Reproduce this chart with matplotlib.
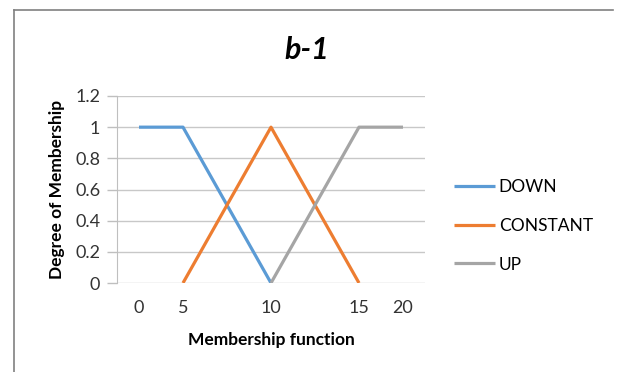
import numpy as np
import matplotlib
matplotlib.use('Agg')
import matplotlib.pyplot as plt
from matplotlib.lines import Line2D

plt.rcParams['font.family'] = ['Lato', 'DejaVu Sans']

# 类别轴：7个类别，其中两个不显示标签
categories = ["0", "5", "", "10", "", "15", "20"]
down = [1, 1, 0.5, 0, np.nan, np.nan, np.nan]
constant = [np.nan, 0, 0.5, 1, 0.5, 0, np.nan]
up = [np.nan, np.nan, np.nan, 0, 0.5, 1, 1]
series_names = ["DOWN", "CONSTANT", "UP"]
colors = ["#5B9BD5", "#ED7D31", "#A5A5A5"]

fig = plt.figure(figsize=(6.17, 3.72), dpi=100)
ax = fig.add_axes([117 / 617, 1 - 283 / 372, 308 / 617, 187 / 372])

x = np.arange(len(categories))
for vals, name, c in zip([down, constant, up], series_names, colors):
    ax.plot(x, vals, color=c, lw=2.3, label=name, solid_capstyle='butt')

ax.set_xlim(-0.5, len(categories) - 0.5)
ax.set_ylim(0, 1.2)
ax.set_yticks([0, 0.2, 0.4, 0.6, 0.8, 1, 1.2])
ax.set_yticklabels(["0", "0.2", "0.4", "0.6", "0.8", "1", "1.2"])
ax.set_xticks(x)
ax.set_xticklabels(categories)
ax.tick_params(axis='x', length=0, pad=12, labelsize=13, colors='#333333')
ax.tick_params(axis='y', length=7, width=1, color='#BFBFBF', pad=5,
               labelsize=13, labelcolor='#333333')
ax.yaxis.grid(True, color='#C8C8C8', lw=1)
ax.set_axisbelow(True)
for s in ['top', 'right', 'bottom']:
    ax.spines[s].set_visible(False)
ax.spines['left'].set_color('#BFBFBF')

ax.set_xlabel("Membership function", fontsize=12.5, fontweight='bold', labelpad=12)
ax.set_ylabel("Degree of Membership", fontsize=12.5, fontweight='bold', labelpad=7)

fig.text(0.497, 1 - 50 / 372, "b-1", ha='center', va='center',
         fontsize=22, fontweight='bold', fontstyle='italic')

ax.legend(loc='center left', bbox_to_anchor=(1.045, 0.305), frameon=False,
          fontsize=12.5, handlelength=2.35, handletextpad=0.2, labelspacing=1.3)

# 外框（只有上边和左边）
fig.add_artist(Line2D([14 / 617, 613 / 617], [1 - 10 / 372, 1 - 10 / 372],
                      color='#808080', lw=1.2, transform=fig.transFigure))
fig.add_artist(Line2D([14 / 617, 14 / 617], [1 - 10 / 372, 0],
                      color='#808080', lw=1.2, transform=fig.transFigure))

fig.savefig("out.png", dpi=100)
